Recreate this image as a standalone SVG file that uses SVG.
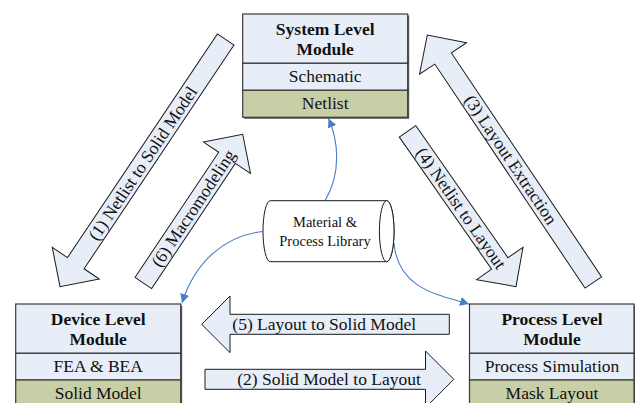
<svg xmlns="http://www.w3.org/2000/svg" width="635" height="403" viewBox="0 0 635 403">
<style>
.box{fill:#E8EEF8;stroke:#3A3A3A;stroke-width:1.2}
.band{fill:#C8CFA6;stroke:#3A3A3A;stroke-width:1.2}
.shadow{fill:#5A5A5A}
.arrow{fill:#E8EEF8;stroke:#1A1A1A;stroke-width:1}
.t{font-family:"Liberation Serif","Times New Roman",serif;font-size:17.5px;fill:#111;text-anchor:middle}
.b{font-weight:bold}
.lib{font-family:"Liberation Serif","Times New Roman",serif;font-size:14.5px;fill:#111;text-anchor:middle}
.conn{fill:none;stroke:#4A7EC4;stroke-width:1.1}
</style>
<defs>
<marker id="ah" markerUnits="userSpaceOnUse" markerWidth="10" markerHeight="9" refX="9" refY="4.5" orient="auto">
<path d="M0,0 L9,4.5 L0,9 z" fill="#4A7EC4"/>
</marker>
</defs>

<g id="connectors">
<g id="arrow1">
<polygon class="arrow" transform="translate(225.7,39.5) rotate(123.83)" points="0,-10 269.3,-10 269.3,-28.3 297.6,0 269.3,28.3 269.3,10 0,10"/>
<text class="t" transform="translate(142.7,163.3) rotate(-56.17)" x="0" y="6">(1) Netlist to Solid Model</text>
</g>
<g id="arrow3">
<polygon class="arrow" transform="translate(593.3,282.5) rotate(-123.85)" points="0,-10 269.7,-10 269.7,-28.3 298,0 269.7,28.3 269.7,10 0,10"/>
<text class="t" transform="translate(510.9,159.6) rotate(56.15)" x="0" y="6">(3) Layout Extraction</text>
</g>
<g id="arrow4">
<polygon class="arrow" transform="translate(407.5,131.3) rotate(55.07)" points="0,-10 161.2,-10 161.2,-28.3 189.5,0 161.2,28.3 161.2,10 0,10"/>
<text class="t" transform="translate(461.2,208.2) rotate(55.07)" x="0" y="6">(4) Netlist to Layout</text>
</g>
<g id="arrow6">
<polygon class="arrow" transform="translate(143.3,283) rotate(-56.24)" points="0,-10 150.6,-10 150.6,-28.3 178.9,0 150.6,28.3 150.6,10 0,10"/>
<text class="t" transform="translate(193.3,208.2) rotate(-56.24)" x="0" y="6">(6) Macromodeling</text>
</g>
<g id="arrow5">
<polygon class="arrow" points="449.3,314.3 230,314.3 230,296 201.7,324.3 230,352.6 230,334.3 449.3,334.3"/>
<text class="t" x="324.2" y="330.3">(5) Layout to Solid Model</text>
</g>
<g id="arrow2">
<polygon class="arrow" points="205,369.3 425.5,369.3 425.5,351 453.8,379.3 425.5,407.6 425.5,389.3 205,389.3"/>
<text class="t" x="329" y="385.3">(2) Solid Model to Layout</text>
</g>
<path class="conn" marker-end="url(#ah)" d="M325,200.7 C342,172 338,140 328.5,118.5"/>
<path class="conn" marker-end="url(#ah)" d="M263.5,231.5 C225,235 195,262 182,303"/>
<path class="conn" marker-end="url(#ah)" d="M394,243 C398,290 440,295 469,304"/>
</g>

<g id="system">
<rect class="shadow" x="244.2" y="15.5" width="165" height="103.3"/>
<rect class="box" x="242.7" y="14" width="165" height="49.3"/>
<rect class="box" x="242.7" y="63.3" width="165" height="27"/>
<rect class="band" x="242.7" y="90.3" width="165" height="27"/>
<text class="t b" x="325.2" y="34.5">System Level</text>
<text class="t b" x="325.2" y="54.5">Module</text>
<text class="t" x="325.2" y="82">Schematic</text>
<text class="t" x="325.2" y="108.5">Netlist</text>
</g>

<g id="device">
<rect class="shadow" x="17.2" y="305.5" width="165" height="103"/>
<rect class="box" x="15.7" y="304" width="165" height="49.3"/>
<rect class="box" x="15.7" y="353.3" width="165" height="26.7"/>
<rect class="band" x="15.7" y="380" width="165" height="27"/>
<text class="t b" x="98.2" y="324.5">Device Level</text>
<text class="t b" x="98.2" y="344.5">Module</text>
<text class="t" x="98.2" y="372">FEA &amp; BEA</text>
<text class="t" x="98.2" y="398.5">Solid Model</text>
</g>

<g id="process">
<rect class="shadow" x="471" y="305.5" width="165" height="103"/>
<rect class="box" x="469.5" y="304" width="164.5" height="49.3"/>
<rect class="box" x="469.5" y="353.3" width="164.5" height="26.7"/>
<rect class="band" x="469.5" y="380" width="164.5" height="27"/>
<text class="t b" x="552" y="324.5">Process Level</text>
<text class="t b" x="552" y="344.5">Module</text>
<text class="t" x="552" y="372">Process Simulation</text>
<text class="t" x="552" y="398.5">Mask Layout</text>
</g>

<g id="library">
<path d="M270.3,200.7 L386.7,200.7 A7.3,30.5 0 0 1 386.7,261.7 L270.3,261.7 A7.3,30.5 0 0 1 270.3,200.7 Z" fill="#FFFFFF" stroke="#1A1A1A" stroke-width="1"/>
<ellipse cx="386.7" cy="231.2" rx="7.3" ry="30.5" fill="#FFFFFF" stroke="#1A1A1A" stroke-width="1"/>
<text class="lib" x="325" y="226.7">Material &amp;</text>
<text class="lib" x="325" y="245.5">Process Library</text>
</g>
</svg>
